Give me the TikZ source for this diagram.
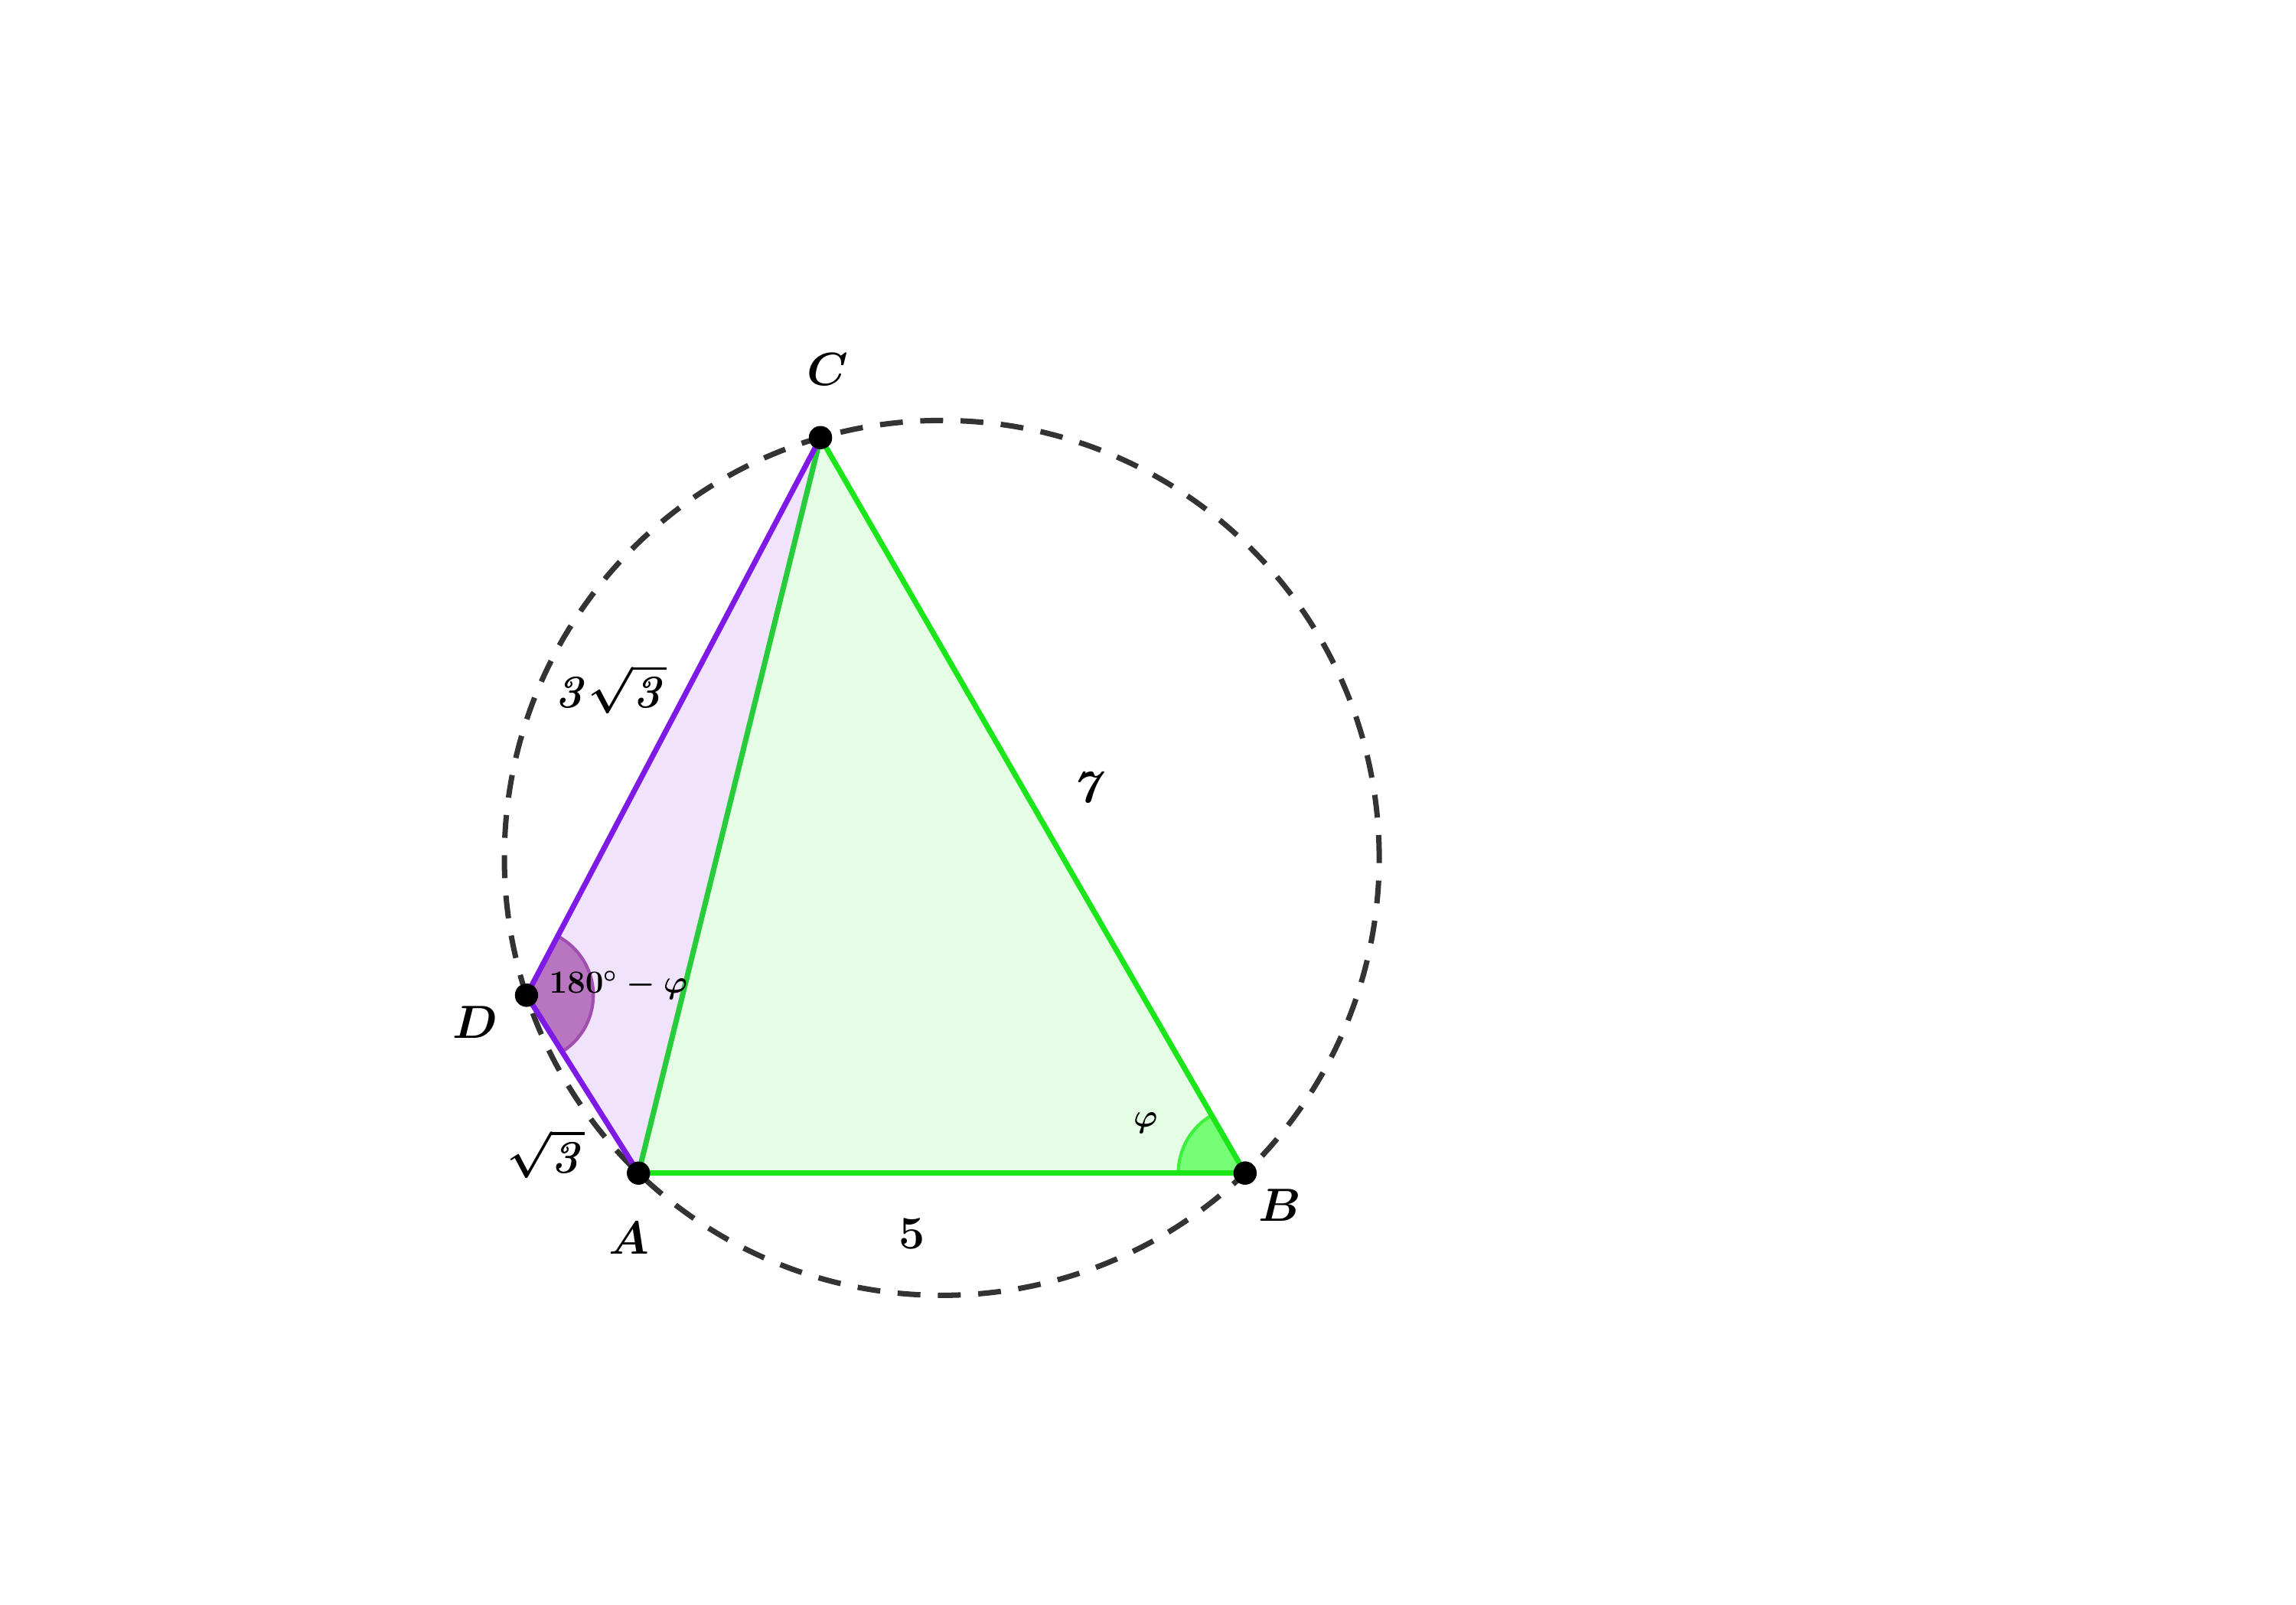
\documentclass[tikz,border=0pt]{standalone}
\usepackage{amsmath}
\definecolor{c1ae61a}{RGB}{26,230,26}
\definecolor{c28cc3a}{RGB}{40,204,58}
\definecolor{ce5fde5}{RGB}{229,253,229}
\definecolor{c7f1ae6}{RGB}{127,26,230}
\definecolor{cf0e4fc}{RGB}{240,228,252}
\definecolor{cb976c0}{RGB}{185,118,192}
\definecolor{ca04eb0}{RGB}{160,78,176}
\definecolor{c76ff76}{RGB}{118,255,118}
\definecolor{c3cf03c}{RGB}{60,240,60}
\definecolor{c333333}{RGB}{51,51,51}
\def \globalscale {1.000000}

\tikzset{
  pointdot/.style={circle,fill=black,minimum size=8.6pt},
  biglabel/.style={font=\fontsize{16}{19}\selectfont\boldmath},
  smalllabel/.style={font=\fontsize{12}{14}\selectfont\boldmath}
}

\begin{document}
\begin{tikzpicture}[y=15.85mm, x=15.85mm, yscale=\globalscale,xscale=\globalscale, every node/.append style={scale=\globalscale}, inner sep=0pt, outer sep=0pt]
  \useasboundingbox (-5.264, -3.560) rectangle (13.664, 9.670);

  \node[pointdot] (A) at (0.0, 0.0){};
  \node[pointdot] (B) at (5.0, 0.0){};
  \node[pointdot] (C) at (1.5, 6.062){};
  \node[pointdot] (D) at (-0.923, 1.466){};
  \coordinate (O) at (2.5, 2.598);



  \path[fill=ce5fde5] (A.center) -- (B.center) -- (C.center) -- cycle;



  \path[fill=cf0e4fc] (A.center) -- (C.center) -- (D.center) -- cycle;



  \path[draw=c3cf03c,fill=c76ff76,line width=1.2pt,line join=round] (B.center) -- ++(180:0.55) arc (180:120:0.55) -- cycle;



  \path[draw=ca04eb0,fill=cb976c0,line width=1.2pt,line join=round] (D.center) -- ++(-57.8:0.55) arc (-57.8:62.2:0.55) -- cycle;



  \path[draw=c333333,line cap=butt,line width=2pt,dash pattern=on 8.5pt off 6.5pt] (O) circle (3.606);



  \path[draw=c1ae61a,line cap=round,line join=round,line width=2pt] (A.center) -- (B.center) -- (C.center);



  \path[draw=c28cc3a,line cap=round,line join=round,line width=2pt] (C.center) -- (A.center);



  \path[draw=c7f1ae6,line cap=round,line join=round,line width=2pt] (C.center) -- (D.center) -- (A.center);



  \node[pointdot] at (A){};
  \node[pointdot] at (B){};
  \node[pointdot] at (C){};
  \node[pointdot] at (D){};



  \node[biglabel] (labelA) at (-0.078, -0.534){$A$};
  \node[biglabel] (labelB) at (5.285, -0.268){$B$};
  \node[biglabel] (labelC) at (1.561, 6.623){$C$};
  \node[biglabel] (labelD) at (-1.346, 1.243){$D$};



  \node[biglabel] (textAB) at (2.257, -0.502){$5$};
  \node[biglabel] (textBC) at (3.708, 3.140){$\mathit{7}$};
  \node[biglabel] (textCD) at (-0.229, 3.991){$\mathit{3}\sqrt{\mathit{3}}$};
  \node[biglabel] (textDA) at (-0.765, 0.157){$\sqrt{\mathit{3}}$};



  \node[smalllabel] (textphi) at (4.181, 0.410){$\varphi$};
  \node[smalllabel] (textangD) at (-0.166, 1.549){$180^\circ-\varphi$};




\end{tikzpicture}
\end{document}
